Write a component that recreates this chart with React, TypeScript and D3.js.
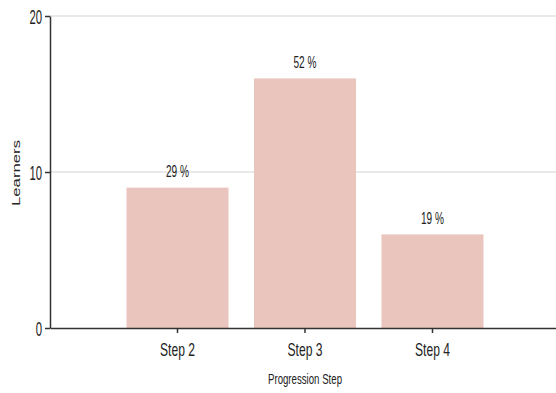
import { useEffect, useRef } from "react";
import * as d3 from "d3";

const categories = ["Step 2", "Step 3", "Step 4"];
const learners = [9, 16, 6];
const yTicks = [0, 10, 20];

const width = 556;
const height = 393;
const font = "'Liberation Sans', Arial, sans-serif";

const App: React.FC = () => {
  const ref = useRef<SVGSVGElement>(null);

  useEffect(() => {
    if (!ref.current) return;
    const svg = d3.select(ref.current);
    svg.selectAll("*").remove();

    const x = d3
      .scaleBand<string>()
      .domain(categories)
      .range([50, 560])
      .paddingInner(0.2)
      .paddingOuter(0.6);
    const y = d3.scaleLinear().domain([0, 20]).range([328, 16]);

    const total = d3.sum(learners);

    // grid lines
    svg
      .append("g")
      .selectAll("line")
      .data(yTicks.filter((t) => t > 0))
      .enter()
      .append("line")
      .attr("x1", 50)
      .attr("x2", width)
      .attr("y1", (d) => y(d))
      .attr("y2", (d) => y(d))
      .attr("stroke", "#e2e2e2")
      .attr("stroke-width", 1.5);

    // bars
    svg
      .append("g")
      .selectAll("rect")
      .data(learners)
      .enter()
      .append("rect")
      .attr("x", (_, i) => x(categories[i]) as number)
      .attr("y", (d) => y(d))
      .attr("width", x.bandwidth())
      .attr("height", (d) => y(0) - y(d))
      .attr("fill", "#eac5bd");

    // percentage labels (text is squeezed horizontally like the original)
    svg
      .append("g")
      .selectAll("text")
      .data(learners)
      .enter()
      .append("text")
      .attr("x", (_, i) => (x(categories[i]) as number) + x.bandwidth() / 2)
      .attr("y", (d) => y(d) - 10.5)
      .attr("text-anchor", "middle")
      .attr("textLength", 23)
      .attr("lengthAdjust", "spacingAndGlyphs")
      .style("font-family", font)
      .style("font-size", "16.5px")
      .style("fill", "#222")
      .text((d) => `${Math.round((d / total) * 100)} %`);

    // y axis
    const yAxis = svg
      .append("g")
      .attr("transform", "translate(50,0)")
      .call(d3.axisLeft(y).tickValues(yTicks).tickSize(5).tickSizeOuter(0).tickPadding(3));
    yAxis.select(".domain").attr("stroke", "#333").attr("stroke-width", 1.5);
    yAxis.selectAll(".tick line").attr("stroke", "#333").attr("stroke-width", 1.5);
    yAxis
      .selectAll<SVGTextElement, number>(".tick text")
      .attr("dy", "0.36em")
      .attr("textLength", (d) => String(d).length * 6.3)
      .attr("lengthAdjust", "spacingAndGlyphs")
      .style("font-family", font)
      .style("font-size", "21px")
      .style("fill", "#222");

    // x axis
    const xAxis = svg
      .append("g")
      .attr("transform", `translate(0,${y(0)})`)
      .call(d3.axisBottom(x).tickSize(5).tickSizeOuter(0));
    xAxis.select(".domain").attr("stroke", "#333").attr("stroke-width", 1.5);
    xAxis.selectAll(".tick line").attr("stroke", "#333").attr("stroke-width", 1.5);
    xAxis
      .selectAll(".tick text")
      .attr("y", 28)
      .attr("dy", "0")
      .attr("textLength", 35)
      .attr("lengthAdjust", "spacingAndGlyphs")
      .style("font-family", font)
      .style("font-size", "19px")
      .style("fill", "#222");

    // axis titles
    svg
      .append("text")
      .attr("x", 305)
      .attr("y", 384)
      .attr("text-anchor", "middle")
      .attr("textLength", 74)
      .attr("lengthAdjust", "spacingAndGlyphs")
      .style("font-family", font)
      .style("font-size", "14px")
      .style("fill", "#222")
      .text("Progression Step");

    svg
      .append("text")
      .attr("transform", `translate(20,173) rotate(-90)`)
      .attr("text-anchor", "middle")
      .attr("textLength", 66)
      .attr("lengthAdjust", "spacingAndGlyphs")
      .style("font-family", font)
      .style("font-size", "11px")
      .style("fill", "#222")
      .text("Learners");
  }, []);

  return (
    <svg
      ref={ref}
      width={width}
      height={height}
      style={{ position: "absolute", left: 0, top: 0, display: "block" }}
    />
  );
};

export default App;
